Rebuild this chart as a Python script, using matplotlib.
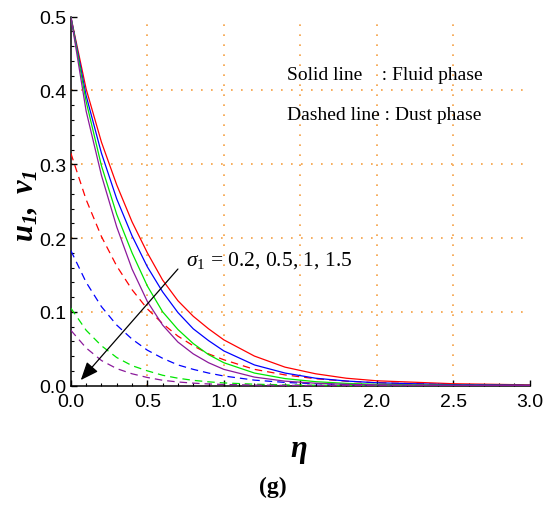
import numpy as np
import matplotlib
matplotlib.use("Agg")
import matplotlib.pyplot as plt
from matplotlib.ticker import MultipleLocator, FormatStrFormatter

plt.rcParams['mathtext.fontset'] = 'custom'
plt.rcParams['mathtext.rm'] = 'Liberation Serif'
plt.rcParams['mathtext.it'] = 'Liberation Serif:italic'
plt.rcParams['mathtext.bf'] = 'Liberation Serif:bold'
plt.rcParams['mathtext.bfit'] = 'Liberation Serif:italic:bold'

eta = [0.0, 0.1, 0.2, 0.3, 0.4, 0.5, 0.6, 0.7, 0.8, 0.9, 1.0,
       1.2, 1.4, 1.6, 1.8, 2.0, 2.5, 3.0]

sigma_labels = ["0.2", "0.5", "1", "1.5"]
colors = ["#FF0000", "#0000FF", "#00E600", "#8B1A9B"]

# Fluid phase u1 (solid)
u_02 = [0.500, 0.402, 0.330, 0.272, 0.222, 0.180, 0.143, 0.115, 0.094, 0.077, 0.062,
        0.040, 0.025, 0.016, 0.010, 0.0065, 0.0025, 0.001]
u_05 = [0.500, 0.393, 0.315, 0.253, 0.203, 0.161, 0.127, 0.099, 0.077, 0.061, 0.047,
        0.028, 0.017, 0.010, 0.0062, 0.0038, 0.0012, 0.0004]
u_1 = [0.500, 0.385, 0.298, 0.232, 0.180, 0.135, 0.100, 0.076, 0.057, 0.042, 0.031,
       0.017, 0.0095, 0.0053, 0.003, 0.0017, 0.0004, 0.0001]
u_15 = [0.500, 0.372, 0.285, 0.215, 0.158, 0.114, 0.082, 0.059, 0.043, 0.031, 0.022,
        0.0115, 0.006, 0.0032, 0.0017, 0.0009, 0.0002, 0.0]

# Dust phase v1 (dashed)
v_02 = [0.315, 0.252, 0.202, 0.162, 0.130, 0.104, 0.084, 0.067, 0.054, 0.043, 0.035,
        0.022, 0.0145, 0.0093, 0.006, 0.0039, 0.0013, 0.0004]
v_05 = [0.183, 0.140, 0.107, 0.082, 0.063, 0.048, 0.037, 0.028, 0.022, 0.017, 0.013,
        0.0074, 0.0043, 0.0025, 0.0015, 0.0009, 0.0002, 0.0]
v_1 = [0.105, 0.075, 0.054, 0.038, 0.027, 0.020, 0.014, 0.010, 0.0071, 0.0051, 0.0036,
       0.0019, 0.0009, 0.0005, 0.0002, 0.0001, 0.0, 0.0]
v_15 = [0.075, 0.051, 0.034, 0.023, 0.016, 0.011, 0.0072, 0.0049, 0.0033, 0.0022, 0.0015,
        0.0007, 0.0003, 0.0001, 0.0, 0.0, 0.0, 0.0]

fluid = [u_02, u_05, u_1, u_15]
dust = [v_02, v_05, v_1, v_15]

fig = plt.figure(figsize=(5.45, 5.06), dpi=100)
ax = fig.add_axes([0.130, 0.236, 0.842, 0.729])

grid_color = "#F5A043"
for gx in [0.5, 1.0, 1.5, 2.0, 2.5]:
    ax.axvline(gx, color=grid_color, lw=1.2, ls=(0, (1, 5)), zorder=0)
for gy in [0.1, 0.2, 0.3, 0.4]:
    ax.axhline(gy, color=grid_color, lw=1.2, ls=(0, (1, 5)), zorder=0)

for col, u, v in zip(colors, fluid, dust):
    ax.plot(eta, u, color=col, lw=0.9, zorder=3)
    ax.plot(eta, v, color=col, lw=0.9, ls=(0, (6, 4)), zorder=3)

ax.set_xlim(0, 3.0)
ax.set_ylim(0, 0.5)
ax.spines['top'].set_visible(False)
ax.spines['right'].set_visible(False)
for s in ['left', 'bottom']:
    ax.spines[s].set_linewidth(1.1)

ax.xaxis.set_major_locator(MultipleLocator(0.5))
ax.xaxis.set_minor_locator(MultipleLocator(0.1))
ax.yaxis.set_major_locator(MultipleLocator(0.1))
ax.yaxis.set_minor_locator(MultipleLocator(0.02))
ax.tick_params(which='major', direction='in', length=4, width=1.0, labelsize=14)
ax.tick_params(axis='x', which='major', pad=5)
ax.tick_params(axis='y', which='major', pad=3)
ax.tick_params(which='minor', direction='in', length=2.3, width=0.8)
ax.xaxis.set_major_formatter(FormatStrFormatter('%.1f'))
ax.yaxis.set_major_formatter(FormatStrFormatter('%.1f'))
for lab in ax.get_xticklabels() + ax.get_yticklabels():
    lab.set_family('Liberation Sans')

fig.text(0.046, 0.593, r"$\mathbfit{u_1,\ v_1}$", rotation=90, fontsize=22,
         ha='center', va='center')
fig.text(0.549, 0.107, r"$\mathbfit{\eta}$", fontsize=22, ha='center', va='center')
fig.text(0.501, 0.036, "(g)", fontsize=17, fontweight='bold', family='Liberation Serif',
         ha='center', va='center')

ax.text(1.415, 0.422, "Solid line    : Fluid phase", fontsize=14,
        family='Liberation Serif', va='center', ha='left')
ax.text(1.415, 0.368, "Dashed line : Dust phase", fontsize=14,
        family='Liberation Serif', va='center', ha='left')

ax.text(0.75, 0.171, r"$\sigma_1$ = " + ", ".join(sigma_labels), fontsize=15.5,
        family='Liberation Serif', va='center', ha='left')
ax.annotate("", xy=(0.065, 0.0075), xytext=(0.70, 0.158),
            arrowprops=dict(arrowstyle="-|>,head_length=1.1,head_width=0.45",
                            color='black', lw=0.9, shrinkA=0, shrinkB=0), zorder=5)

fig.savefig("out.png", dpi=100)
